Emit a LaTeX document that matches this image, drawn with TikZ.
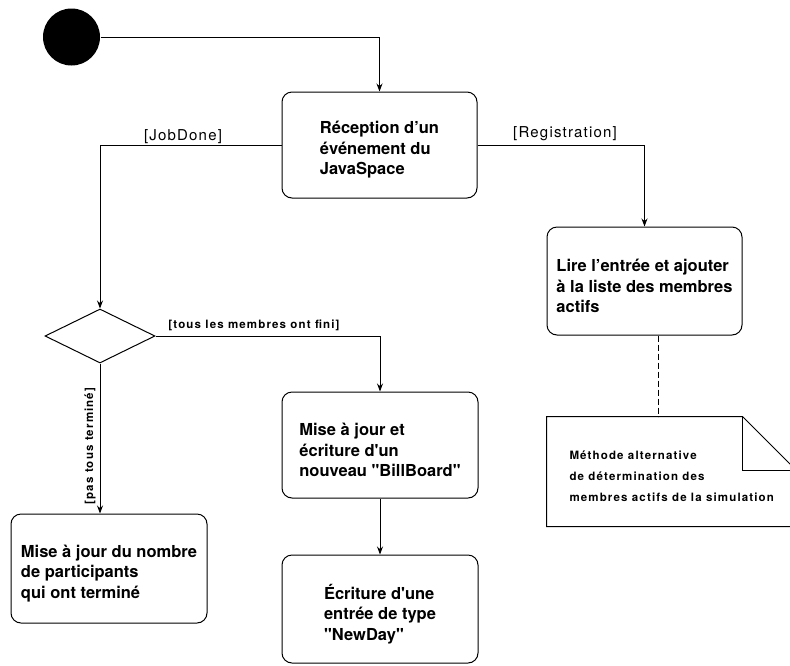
\documentclass[tikz,border=0pt]{standalone}
\usepackage{fontspec}
\setmainfont{TeX Gyre Heros}
\newfontfamily\guardfont[LetterSpace=8]{TeX Gyre Heros}
\newfontfamily\smallfont[LetterSpace=10]{TeX Gyre Heros}
\usetikzlibrary{arrows.meta,shapes.geometric}

\begin{document}
\begin{tikzpicture}[x=1pt,y=-1pt,line width=1pt,
  act/.style={draw, rounded corners=10pt, minimum width=195pt, minimum height=106pt, inner sep=0pt},
  acttext/.style={align=left, inner sep=0pt, font=\fontsize{16.5}{20.5}\selectfont\bfseries},
  flow/.style={-{Stealth[length=8pt,width=6pt]}},
  guard/.style={font=\fontsize{15}{18}\guardfont},
  small/.style={font=\fontsize{11.5}{21}\smallfont\bfseries},
]
\useasboundingbox (0,0) rectangle (790,665);

% initial state
\node[circle, fill=black, minimum size=57pt, inner sep=0pt] (start) at (71.5,37) {};

% activities (frame, then its text set a little below the centre)
\node[act] (recv) at (379.5,145) {};
\node[acttext] (recvtext) at ([yshift=-5pt]recv.center) {Réception d’un\\événement du\\JavaSpace};
\node[act, minimum height=108pt] (reg) at (644.5,281) {};
\node[acttext] (regtext) at ([yshift=-5pt]reg.center) {Lire l’entrée et ajouter\\à la liste des membres\\actifs};
\node[act, minimum width=196pt] (upd) at (380,445) {};
\node[acttext] (updtext) at ([yshift=-5pt]upd.center) {Mise à jour et\\écriture d\textquotesingle un\\nouveau \textquotedbl BillBoard\textquotedbl};
\node[act, minimum width=196pt, minimum height=109pt] (cnt) at (109,568.5) {};
\node[acttext] (cnttext) at ([yshift=-5pt]cnt.center) {Mise à jour du nombre\\de participants\\qui ont terminé};
\node[act, minimum width=196pt, minimum height=108pt] (newday) at (380,609) {};
\node[acttext] (newdaytext) at ([yshift=-5pt]newday.center) {Écriture d\textquotesingle une\\entrée de type\\\textquotedbl NewDay\textquotedbl};

% decision
\node[diamond, draw, minimum width=110pt, minimum height=54pt, inner sep=0pt] (dec) at (100,336) {};

% note with folded corner
\node[minimum width=249pt, minimum height=109pt, inner sep=0pt] (note) at (671.5,471.5) {};
\draw (note.north west) -- ([xshift=-54pt]note.north east) -- ([yshift=-54pt]note.north east)
  -- (note.south east) -- (note.south west) -- cycle;
\draw ([xshift=-54pt]note.north east) -- ([xshift=-54pt,yshift=-54pt]note.north east)
  -- ([yshift=-54pt]note.north east);
\node[small, align=left, anchor=west, inner sep=0pt] (notetext) at (569,476)
  {Méthode alternative\\de détermination des\\membres actifs de la simulation};
\draw[dash pattern=on 6pt off 3pt] ([xshift=13.5pt]reg.south) -- ([xshift=13.5pt]reg.south |- note.north);

% transitions
\draw[flow] (start.east) -| (recv.north);
\draw[flow] (recv.west) -| (dec.north);
\draw[flow] (recv.east) -| (reg.north);
\draw[flow] (dec.east) -| (upd.north);
\draw[flow] (dec.south) -- (dec.south |- cnt.north);
\draw[flow] (upd.south) -- (newday.north);

% guards
\node[guard] (gjob) at (183,137) {[JobDone]};
\node[guard] (greg) at (565,134) {[Registration]};
\node[small] (gall) at (254,325) {[tous les membres ont fini]};
\node[small, rotate=90] (gnot) at (90,446) {[pas tous terminé]};
\end{tikzpicture}
\end{document}
